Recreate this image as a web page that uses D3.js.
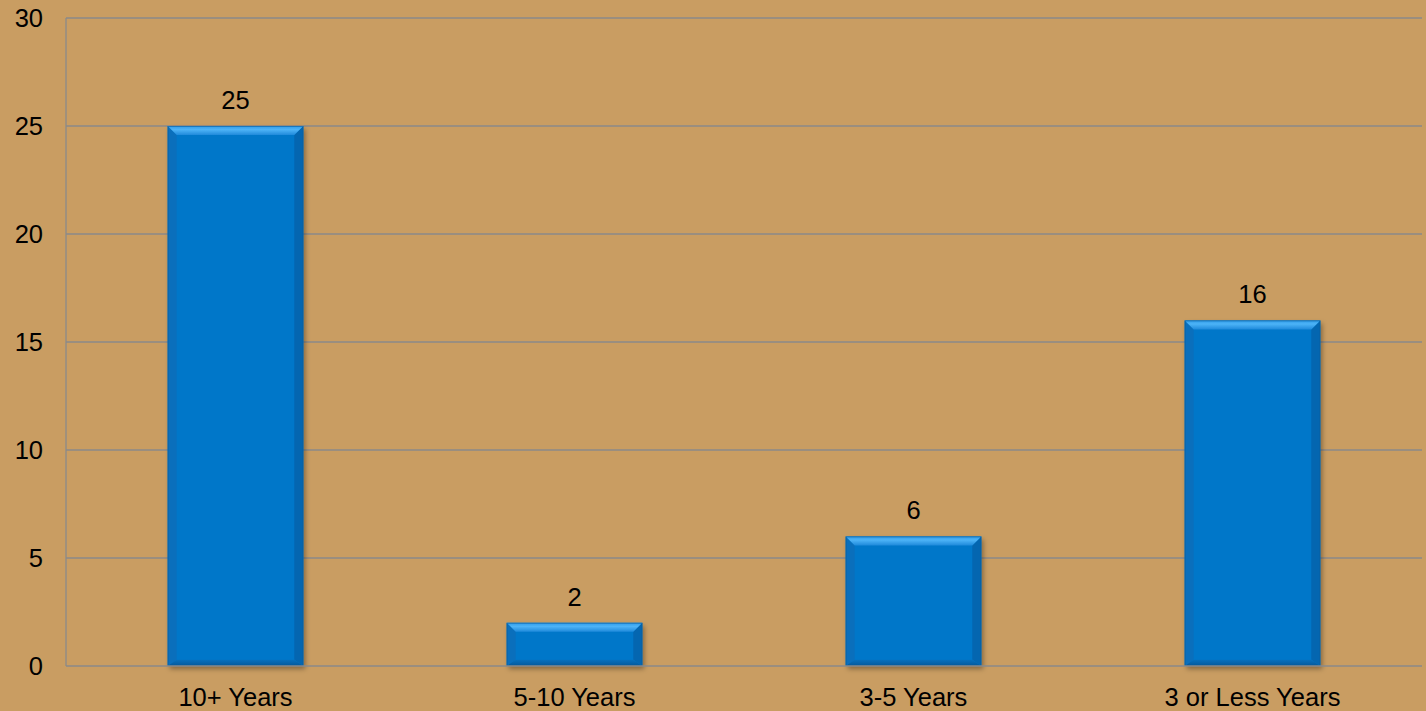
<!DOCTYPE html>
<html>
<head>
<meta charset="utf-8">
<script src="https://cdn.jsdelivr.net/npm/d3@7"></script>
<style>
  body { margin: 0; background: #C99D62; }
  svg { display: block; font-family: 'Liberation Sans', Arial, sans-serif; }
</style>
</head>
<body>
<svg width="1426" height="711"></svg>
<script>
const categories = ['10+ Years', '5-10 Years', '3-5 Years', '3 or Less Years']
const values = [25, 2, 6, 16]
const yTicks = [0, 5, 10, 15, 20, 25, 30]

const svg = d3.select('svg')
const w = +svg.attr('width'), h = +svg.attr('height')

const margin = { left: 66, right: 4, top: 18, bottom: 45 }
const fontSize = 25.5

const x = d3.scaleBand()
    .domain(categories)
    .range([margin.left, w - margin.right])
    .padding(0)

const y = d3.scaleLinear()
    .domain([0, 30])
    .range([h - margin.bottom, margin.top])

const barW = x.bandwidth() * 0.4
const bev = 9

const defs = svg.append('defs')
const shadow = defs.append('filter')
    .attr('id', 'shadow')
    .attr('x', '-10%').attr('y', '-10%')
    .attr('width', '130%').attr('height', '130%')
shadow.append('feDropShadow')
    .attr('dx', 2).attr('dy', 3)
    .attr('stdDeviation', 2.5)
    .attr('flood-color', '#000')
    .attr('flood-opacity', 0.35)

const topGrad = defs.append('linearGradient')
    .attr('id', 'topGrad').attr('x1', 0).attr('y1', 0).attr('x2', 0).attr('y2', 1)
topGrad.append('stop').attr('offset', '0%').attr('stop-color', '#2E9BE8')
topGrad.append('stop').attr('offset', '40%').attr('stop-color', '#4DB3F7')
topGrad.append('stop').attr('offset', '100%').attr('stop-color', '#1F8ADB')

const botGrad = defs.append('linearGradient')
    .attr('id', 'botGrad').attr('x1', 0).attr('y1', 0).attr('x2', 0).attr('y2', 1)
botGrad.append('stop').attr('offset', '0%').attr('stop-color', '#0670BE')
botGrad.append('stop').attr('offset', '100%').attr('stop-color', '#04589A')

// gridlines
svg.append('g')
    .selectAll('line')
    .data(yTicks.filter(d => d > 0))
    .enter().append('line')
        .attr('x1', margin.left)
        .attr('x2', w - margin.right)
        .attr('y1', d => y(d))
        .attr('y2', d => y(d))
        .attr('stroke', '#8A8A8A')
        .attr('stroke-width', 1.3)

// y tick labels
svg.append('g')
    .selectAll('text')
    .data(yTicks)
    .enter().append('text')
        .attr('x', 43)
        .attr('y', d => y(d))
        .attr('dy', '0.35em')
        .attr('text-anchor', 'end')
        .attr('font-size', fontSize)
        .attr('fill', '#000')
        .text(d => d)

// bars
const bars = svg.append('g')
    .selectAll('g')
    .data(values)
    .enter().append('g')
        .attr('transform', (d, i) => `translate(${x(categories[i]) + (x.bandwidth() - barW) / 2}, 0)`)

bars.append('rect')
    .attr('x', 0)
    .attr('y', d => y(d))
    .attr('width', barW)
    .attr('height', d => y(0) - y(d))
    .attr('fill', '#0477C9')
    .attr('filter', 'url(#shadow)')

// left and right bevel sides
bars.append('polygon')
    .attr('points', d => {
        const t = y(d), b = y(0)
        return [[0, t], [bev, t + bev], [bev, b - bev * 0.7], [0, b]].join(' ')
    })
    .attr('fill', '#0A6FBC')
bars.append('polygon')
    .attr('points', d => {
        const t = y(d), b = y(0)
        return [[barW, t], [barW - bev, t + bev], [barW - bev, b - bev * 0.7], [barW, b]].join(' ')
    })
    .attr('fill', '#0466B0')

// top bevel
bars.append('polygon')
    .attr('points', d => {
        const t = y(d)
        return [[0, t], [barW, t], [barW - bev, t + bev], [bev, t + bev]].join(' ')
    })
    .attr('fill', 'url(#topGrad)')

// bottom bevel
bars.append('polygon')
    .attr('points', d => {
        const b = y(0)
        return [[0, b], [barW, b], [barW - bev, b - bev * 0.7], [bev, b - bev * 0.7]].join(' ')
    })
    .attr('fill', 'url(#botGrad)')

// outline edge
bars.append('rect')
    .attr('x', 0.5)
    .attr('y', d => y(d) + 0.5)
    .attr('width', barW - 1)
    .attr('height', d => y(0) - y(d) - 1)
    .attr('fill', 'none')
    .attr('stroke', '#0A5E9E')
    .attr('stroke-opacity', 0.6)
    .attr('stroke-width', 1)

// value labels
bars.append('text')
    .attr('x', barW / 2)
    .attr('y', d => y(d) - 17)
    .attr('text-anchor', 'middle')
    .attr('font-size', fontSize)
    .attr('fill', '#000')
    .text(d => d)

// axes lines
svg.append('line')
    .attr('x1', margin.left).attr('x2', margin.left)
    .attr('y1', y(30)).attr('y2', y(0))
    .attr('stroke', '#8A8A8A').attr('stroke-width', 1.3)
svg.append('line')
    .attr('x1', margin.left).attr('x2', w - margin.right)
    .attr('y1', y(0)).attr('y2', y(0))
    .attr('stroke', '#8A8A8A').attr('stroke-width', 1.3)

// category labels
svg.append('g')
    .selectAll('text')
    .data(categories)
    .enter().append('text')
        .attr('x', d => x(d) + x.bandwidth() / 2)
        .attr('y', 706)
        .attr('text-anchor', 'middle')
        .attr('font-size', fontSize)
        .attr('fill', '#000')
        .text(d => d)
</script>
</body>
</html>
